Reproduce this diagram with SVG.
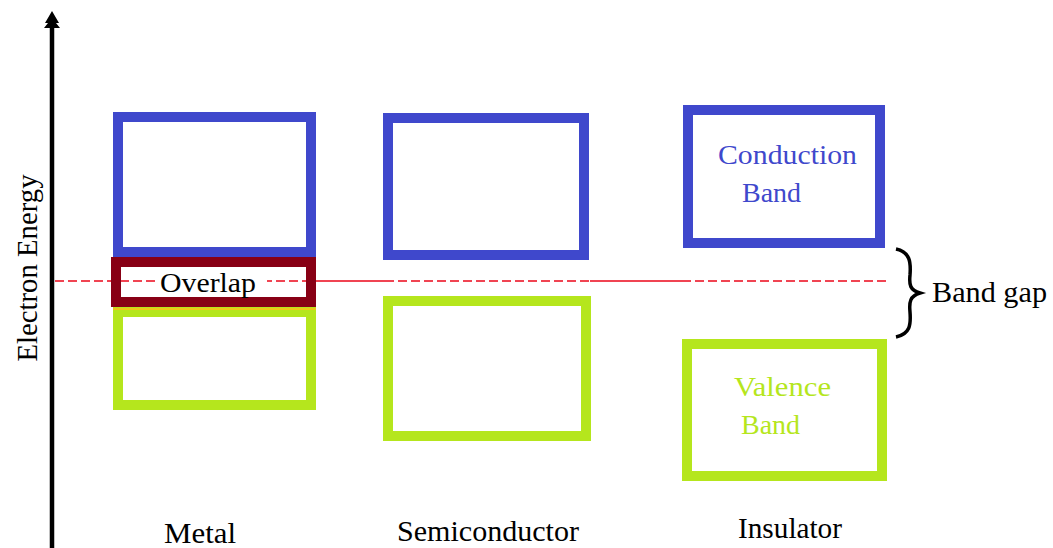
<svg xmlns="http://www.w3.org/2000/svg" width="1053" height="548" viewBox="0 0 1053 548">
  <style>
    .serif { font-family: "Liberation Serif", "Times New Roman", serif; }
    .cond { fill: none; stroke: #3F48CC; stroke-width: 10; }
    .val { fill: none; stroke: #B5E61D; stroke-width: 10; }
    .ovl { fill: none; stroke: #880015; stroke-width: 10; }
    .level { stroke: #F04452; stroke-width: 2; fill: none; }
    .lbl { font-size: 29px; fill: #000; }
  </style>
  <rect width="1053" height="548" fill="#fff"/>

  <!-- energy axis -->
  <g id="axis">
    <line x1="52" y1="22" x2="52" y2="548" stroke="#000" stroke-width="4.5"/>
    <polygon points="52,11 45,23 48,23 44,28 60,28 56,23 59,23" fill="#000"/>
    <text class="serif" font-size="29" transform="translate(37,268) rotate(-90)" text-anchor="middle" textLength="187" lengthAdjust="spacingAndGlyphs">Electron Energy</text>
  </g>

  <!-- reference level -->
  <g id="connectors">
    <line class="level" x1="55" y1="281" x2="306" y2="281" stroke-dasharray="9 4"/>
    <line class="level" x1="306" y1="281" x2="385" y2="281"/>
    <line class="level" x1="385" y1="281" x2="590" y2="281" stroke-dasharray="9 4"/>
    <line class="level" x1="590" y1="281" x2="682" y2="281"/>
    <line class="level" x1="682" y1="281" x2="887" y2="281" stroke-dasharray="9 4"/>
  </g>

  <!-- metal -->
  <g id="metal-conduction">
    <rect class="cond" x="118" y="117" width="193" height="135"/>
  </g>
  <g id="metal-valence">
    <rect class="val" x="118" y="312" width="193" height="93"/>
    <line x1="113" y1="309" x2="316" y2="309" stroke="#F0C419" stroke-width="2"/>
  </g>
  <g id="metal-overlap">
    <rect class="ovl" x="116" y="262" width="195" height="40"/>
    <rect x="155" y="269" width="112" height="26" fill="#fff"/>
    <text class="serif" x="208" y="292" font-size="27" text-anchor="middle" textLength="96" lengthAdjust="spacingAndGlyphs">Overlap</text>
  </g>
  <g id="metal-label">
    <text class="serif lbl" x="200" y="543" text-anchor="middle" font-size="32" textLength="72" lengthAdjust="spacingAndGlyphs">Metal</text>
  </g>

  <!-- semiconductor -->
  <g id="semi-conduction">
    <rect class="cond" x="388" y="118" width="196" height="137"/>
  </g>
  <g id="semi-valence">
    <rect class="val" x="388" y="301" width="198" height="135"/>
  </g>
  <g id="semi-label">
    <text class="serif lbl" x="488" y="541" text-anchor="middle" font-size="32" textLength="182" lengthAdjust="spacingAndGlyphs">Semiconductor</text>
  </g>

  <!-- insulator -->
  <g id="ins-conduction">
    <rect class="cond" x="688" y="110" width="192" height="133"/>
    <text class="serif" x="718" y="164" font-size="28" fill="#3F48CC" textLength="139" lengthAdjust="spacingAndGlyphs">Conduction</text>
    <text class="serif" x="742" y="202" font-size="28" fill="#3F48CC">Band</text>
  </g>
  <g id="ins-valence">
    <rect class="val" x="687" y="344" width="195" height="132"/>
    <text class="serif" x="734" y="396" font-size="28" fill="#B5E61D" textLength="97" lengthAdjust="spacingAndGlyphs">Valence</text>
    <text class="serif" x="741" y="434" font-size="28" fill="#B5E61D">Band</text>
  </g>
  <g id="ins-label">
    <text class="serif lbl" x="790" y="538" text-anchor="middle" font-size="32" textLength="104" lengthAdjust="spacingAndGlyphs">Insulator</text>
  </g>

  <!-- band gap brace -->
  <g id="band-gap">
    <path d="M896 249 C910 252 911 262 910 275 C909 285 910 290 920 293 C910 296 909 302 910 312 C911 325 910 334 896 337" fill="none" stroke="#000" stroke-width="3.5"/>
    <text class="serif" x="932" y="302" font-size="29" textLength="115" lengthAdjust="spacingAndGlyphs">Band gap</text>
  </g>
</svg>
